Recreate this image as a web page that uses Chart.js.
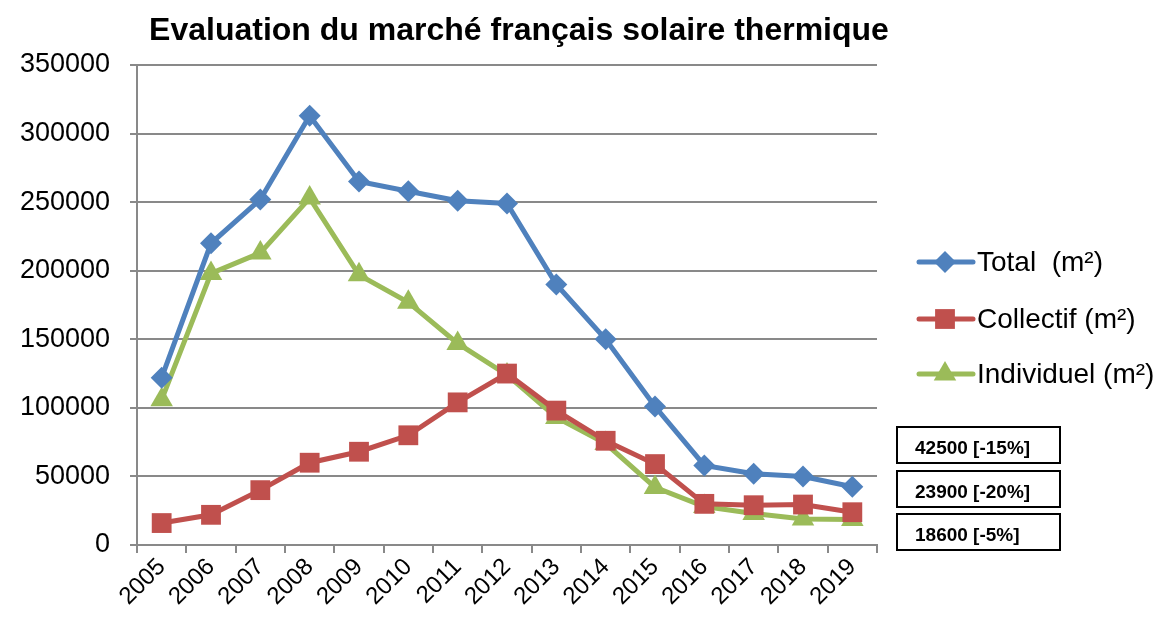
<!DOCTYPE html>
<html>
<head>
<meta charset="utf-8">
<script src="https://cdn.jsdelivr.net/npm/chart.js@4.4.1/dist/chart.umd.min.js"></script>
<style>
  html, body { margin: 0; padding: 0; background: #fff; }
  #wrap { width: 1169px; height: 617px; position: relative; }
</style>
</head>
<body>
<div id="wrap"><canvas id="chart1" width="1169" height="617"></canvas></div>
<script>

// data
var years = ['2005','2006','2007','2008','2009','2010','2011','2012','2013','2014','2015','2016','2017','2018','2019'];
var total = [122000, 220000, 252000, 313000, 265000, 258000, 251000, 249000, 190000, 150000, 101000, 58000, 52000, 50000, 42500];
var collectif = [16000, 22000, 40000, 60000, 68000, 80000, 104000, 125000, 98000, 76000, 59000, 30000, 29000, 29500, 23900];
var individuel = [106000, 198000, 213000, 253000, 197000, 177000, 147000, 124000, 93000, 74000, 42000, 28000, 23000, 19000, 18600];
var seriesNames = ['Total  (m\u00b2)', 'Collectif (m\u00b2)', 'Individuel (m\u00b2)'];
var boxLabels = ['42500 [-15%]', '23900 [-20%]', '18600 [-5%]'];
var chartTitle = 'Evaluation du march\u00e9 fran\u00e7ais solaire thermique';

var blue = '#4F81BD', red = '#C0504D', green = '#9BBB59';
var grey = '#898989';
var fontName = '"Liberation Sans", Arial, sans-serif';

/************** title, legend and value boxes drawn on the canvas **************/

var extras = {
  id: 'extras',
  afterDraw: function(chart){
    var ctx = chart.ctx;
    ctx.save();

    // title
    ctx.fillStyle = '#000';
    ctx.font = 'bold 32px ' + fontName;
    ctx.textAlign = 'center';
    ctx.textBaseline = 'middle';
    ctx.fillText(chartTitle, 519, 31);

    // legend (line + marker + text)
    var rows = [262, 319, 374];
    chart.data.datasets.forEach(function(ds, i){
      var y = rows[i];
      ctx.strokeStyle = ds.borderColor;
      ctx.lineWidth = 5;
      ctx.lineCap = 'round';
      ctx.beginPath();
      ctx.moveTo(919, y);
      ctx.lineTo(973, y);
      ctx.stroke();
      ctx.fillStyle = ds.backgroundColor;
      ctx.strokeStyle = ds.backgroundColor;
      Chart.helpers.drawPoint(ctx, {pointStyle: ds.pointStyle, rotation: 0, radius: ds.pointRadius, borderWidth: 0}, 945, y);
      ctx.fillStyle = '#000';
      ctx.font = '28px ' + fontName;
      ctx.textAlign = 'left';
      ctx.textBaseline = 'middle';
      ctx.fillText(ds.label, 977, y + 1);
    });

    // boxes with the last values
    var tops = [427, 471, 514];
    boxLabels.forEach(function(t, i){
      ctx.strokeStyle = '#000';
      ctx.lineWidth = 2;
      ctx.strokeRect(897, tops[i], 163, 36);
      ctx.fillStyle = '#000';
      ctx.font = 'bold 19px ' + fontName;
      ctx.textAlign = 'left';
      ctx.textBaseline = 'middle';
      ctx.fillText(t, 915, tops[i] + 22);
    });

    ctx.restore();
  }
};

const config = {
  type: 'line',
  data: {
    labels: years,
    datasets: [
      { label: seriesNames[0], data: total, borderColor: blue, backgroundColor: blue,
        borderWidth: 5, pointStyle: 'rectRot', pointRadius: 11, pointBorderWidth: 0, tension: 0 },
      { label: seriesNames[1], data: collectif, borderColor: red, backgroundColor: red,
        borderWidth: 5, pointStyle: 'rect', pointRadius: 14, pointBorderWidth: 0, tension: 0 },
      { label: seriesNames[2], data: individuel, borderColor: green, backgroundColor: green,
        borderWidth: 5, pointStyle: 'triangle', pointRadius: 13, pointBorderWidth: 0, tension: 0 }
    ]
  },
  options: {
    responsive: false,
    animation: false,
    layout: { padding: { left: 0, right: 292, top: 65, bottom: 0 } },
    plugins: {
      legend: { display: false },
      tooltip: { enabled: false },
      title: { display: false }
    },
    scales: {
      x: {
        offset: true,
        grid: { display: true, drawOnChartArea: false, drawTicks: true, tickLength: 8, offset: true, color: grey, lineWidth: 2 },
        border: { display: true, color: grey, width: 2 },
        ticks: { color: '#000', font: { size: 24, family: fontName },
                 minRotation: 45, maxRotation: 45, padding: 0, autoSkip: false },
        afterFit: function(scale){ scale.height = 72; }
      },
      y: {
        min: 0, max: 350000,
        grid: { color: grey, lineWidth: 2, tickLength: 7 },
        border: { display: true, color: grey, width: 2 },
        ticks: { stepSize: 50000, color: '#000', padding: 20,
                 font: { size: 27, family: fontName },
                 callback: function(v){ return String(v); } },
        afterFit: function(scale){ scale.width = 137; }
      }
    }
  },
  plugins: [extras]
};

const myChart = new Chart(document.getElementById('chart1'), config);

</script>
</body>
</html>
